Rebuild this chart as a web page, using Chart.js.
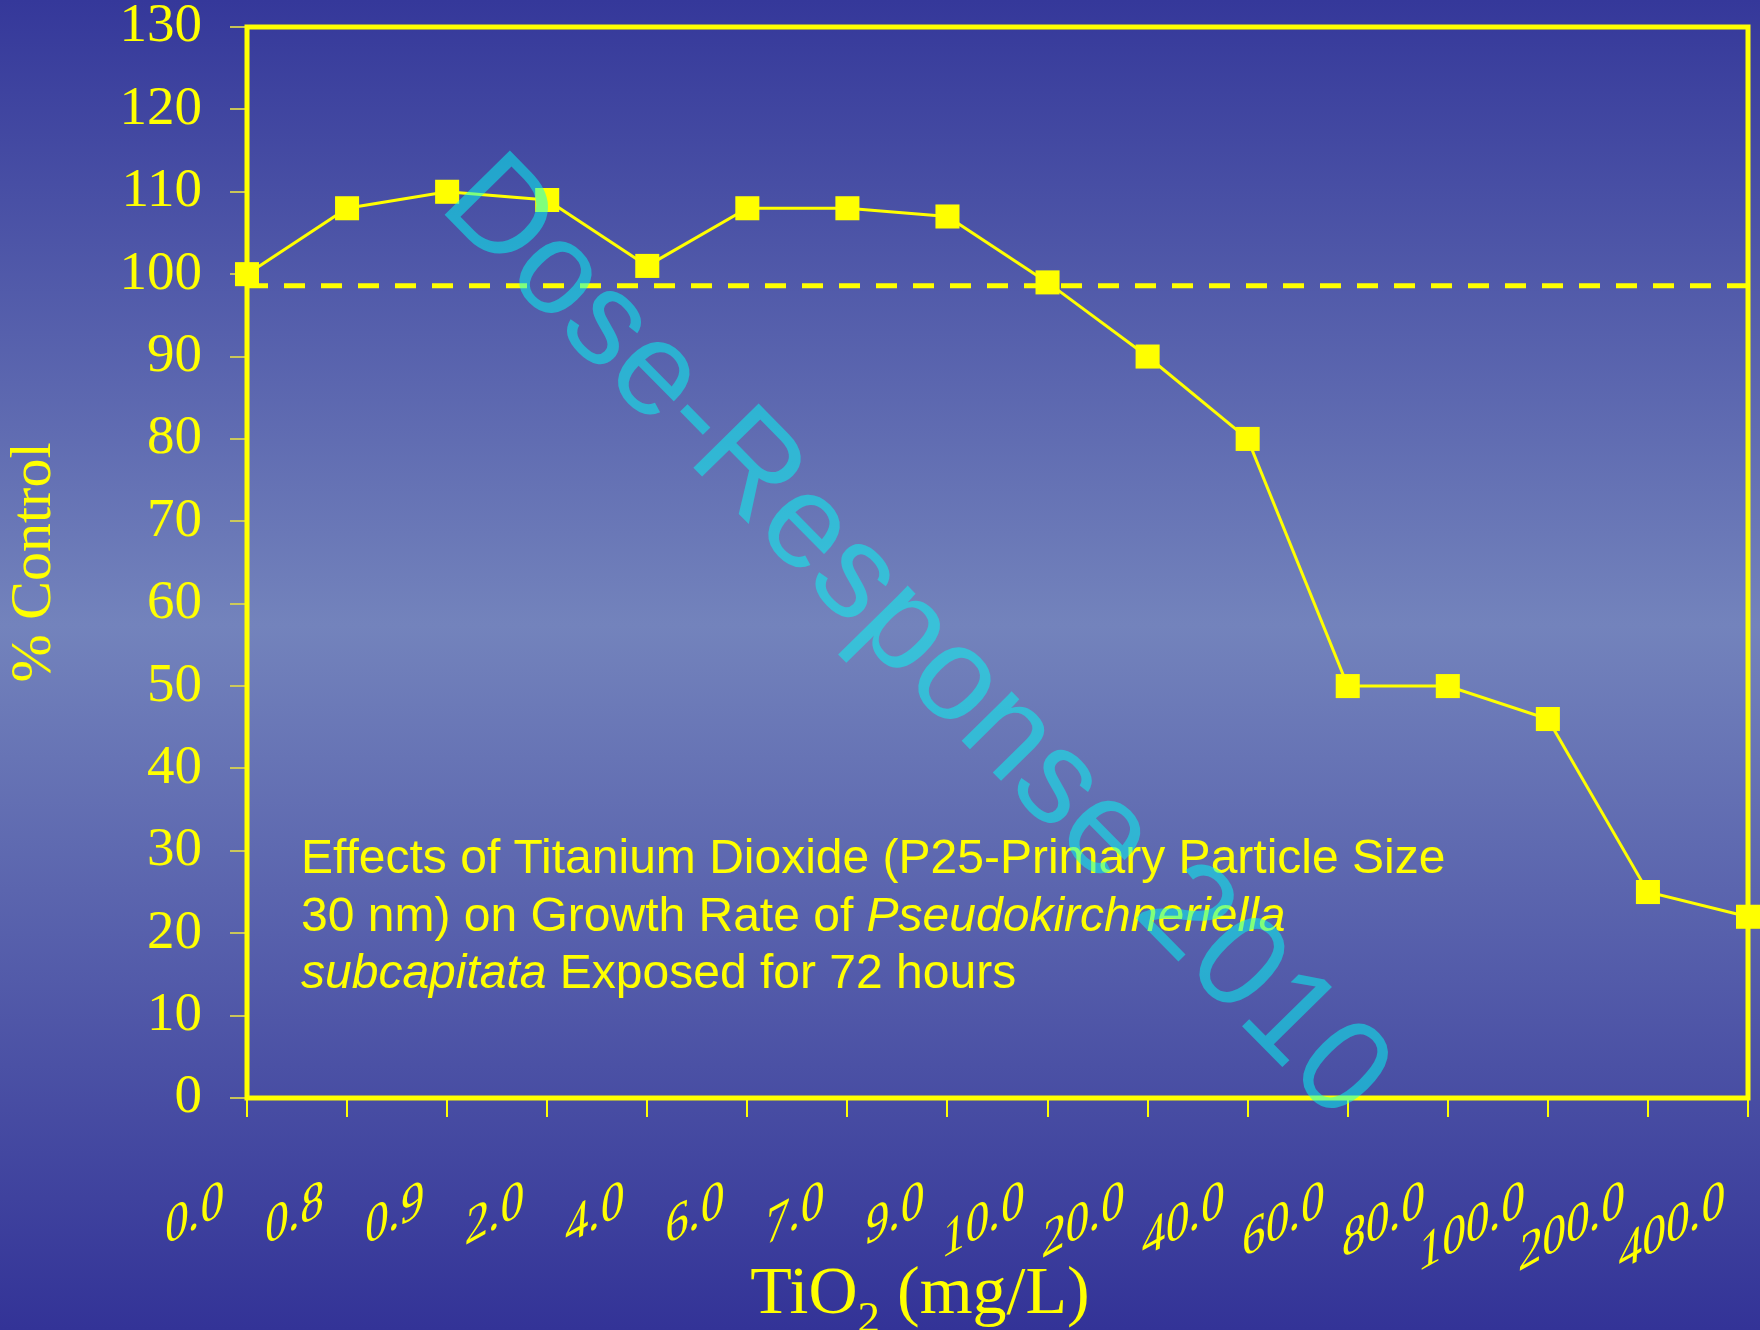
<!DOCTYPE html>
<html>
<head>
<meta charset="utf-8">
<script src="https://cdn.jsdelivr.net/npm/chart.js@4.4.1/dist/chart.umd.min.js"></script>
<style>
  html, body { margin: 0; padding: 0; background: #35389a; }
  canvas { display: block; }
</style>
</head>
<body>
<canvas id="doseChart" width="1760" height="1330"></canvas>
<script>
// TiO2 concentrations (mg/L), one category per test level
const doseLabels = ['0.0', '0.8', '0.9', '2.0', '4.0', '6.0', '7.0', '9.0',
                    '10.0', '20.0', '40.0', '60.0', '80.0', '100.0', '200.0', '400.0'];
// Growth rate as % of control
const growthPct = [100, 108, 110, 109, 101, 108, 108, 107, 99, 90, 80, 50, 50, 46, 25, 22];
// Control reference level (dashed line)
const controlLevel = 98.6;
const controlLine = doseLabels.map(() => controlLevel);
// Y axis range
const yMin = 0, yMax = 130, yStep = 10;

const captionLines = [
  [['Effects of Titanium Dioxide (P25-Primary Particle Size', false]],
  [['30 nm) on Growth Rate of ', false], ['Pseudokirchneriella', true]],
  [['subcapitata', true], [' Exposed for 72 hours', false]]
];
const watermarkText = 'Dose-Response 2010';

const YELLOW = '#ffff00';
const SERIF = "'Liberation Serif', 'Times New Roman', serif";
const SANS = "'Liberation Sans', Arial, sans-serif";

// Slide-style vertical gradient behind everything
const backdrop = {
  id: 'backdrop',
  beforeDraw(chart) {
    const { ctx, width, height } = chart;
    const g = ctx.createLinearGradient(0, 0, 0, height);
    g.addColorStop(0, '#35389a');
    g.addColorStop(0.47, '#7383bc');
    g.addColorStop(1, '#333397');
    ctx.save();
    ctx.fillStyle = g;
    ctx.fillRect(0, 0, width, height);
    ctx.restore();
  }
};

// Yellow frame round the plot area
const frame = {
  id: 'frame',
  beforeDatasetsDraw(chart) {
    const { ctx, chartArea: a } = chart;
    ctx.save();
    ctx.strokeStyle = YELLOW;
    ctx.lineWidth = 5;
    ctx.strokeRect(a.left, a.top, a.right - a.left, a.bottom - a.top);
    ctx.restore();
  }
};

// Slanted concentration labels under each x tick
const doseTickLabels = {
  id: 'doseTickLabels',
  afterDraw(chart) {
    const xs = chart.scales.x;
    const ctx = chart.ctx;
    const base = chart.chartArea.bottom + 115;
    const a = 29 * Math.PI / 180;
    const t = 4 * Math.PI / 180;
    ctx.save();
    ctx.fillStyle = YELLOW;
    ctx.font = `54px ${SERIF}`;
    ctx.textAlign = 'right';
    ctx.textBaseline = 'alphabetic';
    doseLabels.forEach((lab, i) => {
      const px = xs.getPixelForTick(i);
      ctx.setTransform(Math.cos(a), -Math.sin(a), -Math.sin(t), Math.cos(t), px - 24, base);
      ctx.fillText(lab, 0, 0);
    });
    ctx.restore();
  }
};

// X axis title with subscript
const axisTitleX = {
  id: 'axisTitleX',
  afterDraw(chart) {
    const ctx = chart.ctx;
    const big = `68px ${SERIF}`, small = `45px ${SERIF}`;
    const parts = [['TiO', big, 0], ['2', small, 19], [' (mg/L)', big, 0]];
    ctx.save();
    ctx.fillStyle = YELLOW;
    ctx.textAlign = 'left';
    ctx.textBaseline = 'alphabetic';
    let total = 0;
    parts.forEach(p => { ctx.font = p[1]; total += ctx.measureText(p[0]).width; });
    let x = 920 - total / 2;
    const y = 1313;
    parts.forEach(p => {
      ctx.font = p[1];
      ctx.fillText(p[0], x, y + p[2]);
      x += ctx.measureText(p[0]).width;
    });
    ctx.restore();
  }
};

// Caption inside the plot
const caption = {
  id: 'caption',
  afterDraw(chart) {
    const ctx = chart.ctx;
    ctx.save();
    ctx.fillStyle = YELLOW;
    ctx.textAlign = 'left';
    ctx.textBaseline = 'alphabetic';
    captionLines.forEach((line, li) => {
      let x = 301;
      const y = 873 + li * 57.5;
      line.forEach(([txt, italic]) => {
        ctx.font = `${italic ? 'italic ' : ''}48px ${SANS}`;
        ctx.fillText(txt, x, y);
        x += ctx.measureText(txt).width;
      });
    });
    ctx.restore();
  }
};

// Diagonal translucent watermark
const watermark = {
  id: 'watermark',
  afterDraw(chart) {
    const ctx = chart.ctx;
    ctx.save();
    ctx.translate(437, 207);
    ctx.rotate(45.5 * Math.PI / 180);
    ctx.font = `133px ${SANS}`;
    ctx.fillStyle = 'rgba(0,255,245,0.5)';
    ctx.textAlign = 'left';
    ctx.textBaseline = 'alphabetic';
    ctx.fillText(watermarkText, 0, 0);
    ctx.restore();
  }
};

new Chart(document.getElementById('doseChart'), {
  type: 'line',
  data: {
    labels: doseLabels,
    datasets: [
      {
        data: growthPct,
        borderColor: YELLOW,
        borderWidth: 3,
        tension: 0,
        pointStyle: 'rect',
        pointRadius: 17,
        pointHoverRadius: 17,
        pointBackgroundColor: YELLOW,
        pointBorderWidth: 0,
        clip: false,
        order: 0
      },
      {
        data: controlLine,
        borderColor: YELLOW,
        borderWidth: 5,
        borderDash: [21, 16],
        pointRadius: 0,
        pointHoverRadius: 0,
        order: 1
      }
    ]
  },
  options: {
    responsive: false,
    animation: false,
    devicePixelRatio: 1,
    events: [],
    layout: { autoPadding: false, padding: { top: 27, right: 12, left: 0, bottom: 0 } },
    plugins: { legend: { display: false }, tooltip: { enabled: false } },
    scales: {
      x: {
        type: 'category',
        offset: false,
        border: { display: false },
        grid: { drawOnChartArea: false, drawTicks: true, tickLength: 19, color: YELLOW, lineWidth: 2 },
        ticks: { display: false, autoSkip: false },
        afterFit(s) { s.height = 232; s.paddingLeft = 0; s.paddingRight = 0; }
      },
      y: {
        min: yMin,
        max: yMax,
        border: { display: false },
        grid: { drawOnChartArea: false, drawTicks: true, tickLength: 17, color: 'rgba(215,210,80,0.9)', lineWidth: 2 },
        ticks: { stepSize: yStep, color: YELLOW, font: { family: SERIF, size: 55, lineHeight: 0.9 }, padding: 28 },
        title: { display: true, text: '% Control', color: YELLOW, font: { family: SERIF, size: 58 }, padding: { top: 0, bottom: 0 } },
        afterFit(s) { s.width = 247; s.paddingTop = 0; s.paddingBottom = 0; }
      }
    }
  },
  plugins: [backdrop, frame, doseTickLabels, axisTitleX, caption, watermark]
});
</script>
</body>
</html>
